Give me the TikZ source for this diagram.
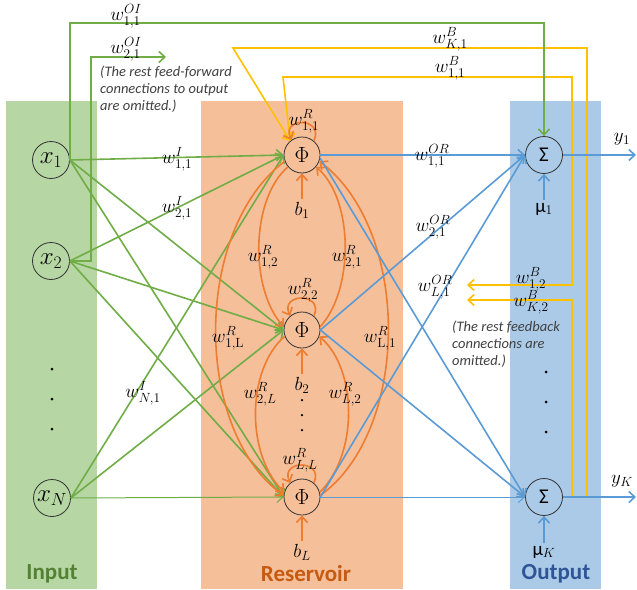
\documentclass[tikz,border=0pt]{standalone}
\usepackage{fix-cm}
\usepackage[no-math]{fontspec}
\setmainfont{Carlito}
\usetikzlibrary{arrows.meta}

\definecolor{inband}{RGB}{182,214,163}
\definecolor{resband}{RGB}{245,191,154}
\definecolor{outband}{RGB}{170,202,232}
\definecolor{ingreen}{RGB}{112,173,71}
\definecolor{resorange}{RGB}{237,125,49}
\definecolor{outblue}{RGB}{91,155,213}
\definecolor{fbyellow}{RGB}{255,192,0}
\definecolor{intext}{RGB}{84,130,53}
\definecolor{restext}{RGB}{197,90,17}
\definecolor{outtext}{RGB}{47,85,151}
\definecolor{notetext}{RGB}{64,64,64}

\tikzset{
  unit/.style={circle,draw=black!80,line width=0.8pt,minimum size=37pt,inner sep=0pt},
  wlab/.style={inner sep=0pt,font=\fontsize{19}{21}\selectfont},
  bandlab/.style={font=\fontsize{23}{26}\selectfont\bfseries},
  note/.style={align=left,inner sep=0pt,anchor=west,text=notetext,font=\fontsize{14.5}{16.8}\selectfont\itshape},
  gline/.style={draw=ingreen,line width=1.6pt,->},
  rline/.style={draw=resorange,line width=1.6pt,->},
  oline/.style={draw=outblue,line width=1.6pt,->},
  fline/.style={draw=fbyellow,line width=1.6pt,->},
  dot/.style={circle,fill=black,inner sep=0pt,minimum size=3pt},
}

\begin{document}
\begin{tikzpicture}[x=1pt,y=-1pt,>={Straight Barb[length=6pt,width=11pt]}]
			%%%%% START %%%%%
			\useasboundingbox (0,0) rectangle (637,589);

			% the three bands
			\fill[inband] (6,101) rectangle (97,589);
			\fill[resband] (201,101) rectangle (403,589);
			\fill[outband] (510,101) rectangle (601,589);
			\node[bandlab,text=intext] (inlab) at (52,574) {Input};
			\node[bandlab,text=restext] (reslab) at (306,574) {Reservoir};
			\node[bandlab,text=outtext] (outlab) at (556,574) {Output};

			% units
			\node[unit,font=\fontsize{25}{27}\selectfont] (x1) at (51,160) {$x_1$};
			\node[unit,font=\fontsize{25}{27}\selectfont] (x2) at (51,261) {$x_2$};
			\node[unit,font=\fontsize{25}{27}\selectfont] (xN) at (52,498) {$x_N$};
			\node[unit,minimum size=36pt,font=\fontsize{22}{24}\selectfont] (phi1) at (302,155) {$\Phi$};
			\node[unit,minimum size=36pt,font=\fontsize{22}{24}\selectfont] (phi2) at (302,330) {$\Phi$};
			\node[unit,minimum size=36pt,font=\fontsize{22}{24}\selectfont] (phiL) at (302,497) {$\Phi$};
			\node[unit,font=\fontsize{21}{24}\selectfont] (sig1) at (544,155) {Σ};
			\node[unit,font=\fontsize{21}{24}\selectfont] (sigK) at (544,497) {Σ};

			\node[dot] (ind1) at (52,369) {};
			\node[dot] (ind2) at (52,399) {};
			\node[dot] (ind3) at (52,429) {};
			\node[dot,minimum size=2.5pt] (resd1) at (302,400) {};
			\node[dot,minimum size=2.5pt] (resd2) at (302,415) {};
			\node[dot,minimum size=2.5pt] (resd3) at (302,430) {};
			\node[dot] (outd1) at (546,372) {};
			\node[dot] (outd2) at (546,402) {};
			\node[dot] (outd3) at (546,432) {};

			% biases
			\node[wlab] (b1) at (302,210) {$b_1$};
			\node[wlab] (b2) at (302,385) {$b_2$};
			\node[wlab] (bL) at (302,552) {$b_L$};
			\draw[rline] (b1.north) ++(0,-3) -- (phi1.south);
			\draw[rline] (b2.north) ++(0,-3) -- (phi2.south);
			\draw[rline] (bL.north) ++(0,-3) -- (phiL.south);
			\node[wlab] (mu1) at (544,209) {μ$_1$};
			\node[wlab] (muK) at (544,552) {μ$_K$};
			\draw[oline] (mu1.north) ++(0,-3) -- (sig1.south);
			\draw[oline] (muK.north) ++(0,-3) -- (sigK.south);

			% feedback to the reservoir
			\coordinate (j1) at (572,155);
			\coordinate (jK) at (587,497);
			\coordinate (jK2) at (572,497);
			\coordinate (fb12) at (467,285);
			\coordinate (fbK2) at (467,300);
			\draw[fline] (j1) |- (283,77) -- (phi1.130);
			\draw[fline] (jK) |- (233,48) -- (phi1.130);
			\draw[fline] (j1) |- (fb12);
			\draw[fline] (jK2) |- (fbK2);
			\node[wlab] (wB11) at (450,68) {$w^B_{1,1}$};
			\node[wlab] (wBK1) at (450,39) {$w^B_{K,1}$};
			\node[wlab] (wB12) at (531,279) {$w^B_{1,2}$};
			\node[wlab] (wBK2) at (531,302) {$w^B_{K,2}$};
			\node[note] (fbnote) at (452,344) {(The rest feedback\\connections are\\omitted.)};

			% input to reservoir
			\draw[gline] (x1.east) -- (phi1.west);
			\draw[gline] (x1.east) -- (phi2.west);
			\draw[gline] (x1.east) -- (phiL.west);
			\draw[gline] (x2.east) -- (phi1.west);
			\draw[gline] (x2.east) -- (phi2.west);
			\draw[gline] (x2.east) -- (phiL.west);
			\draw[gline] (xN.east) -- (phi1.west);
			\draw[gline] (xN.east) -- (phi2.west);
			\draw[gline,line width=1pt] (xN.east) -- (phiL.west);
			\node[wlab] (wI11) at (177,159) {$w^I_{1,1}$};
			\node[wlab] (wI21) at (177,208) {$w^I_{2,1}$};
			\node[wlab] (wIN1) at (143,393) {$w^I_{N,1}$};

			% input straight to output
			\coordinate (oi2) at (166,57);
			\draw[gline] (x1.east) |- (sig1.north |- 0,23) -- (sig1.north);
			\draw[gline] (x2.east) -- ++(21,0) |- (oi2);
			\node[wlab] (wOI11) at (126,16) {$w^{OI}_{1,1}$};
			\node[wlab] (wOI21) at (126,49) {$w^{OI}_{2,1}$};
			\node[note] (ffnote) at (100,89) {(The rest feed-forward\\connections to output\\are omitted.)};

			% recurrent weights
			\draw[rline] (phi1.50) .. controls +(65:26pt) and +(115:26pt) .. (phi1.125);
			\draw[rline] (phi2.50) .. controls +(65:26pt) and +(115:26pt) .. (phi2.130);
			\draw[rline] (phiL.50) .. controls +(65:26pt) and +(115:26pt) .. (phiL.130);
			\draw[rline] (phi1.220) .. controls (250,200) and (250,290) .. (phi2.170);
			\draw[rline] (phi1.200) .. controls (193,230) and (193,430) .. (phiL.175);
			\draw[rline] (phi2.200) .. controls (246,370) and (246,455) .. (phiL.165);
			\draw[rline] (phi2.10) .. controls (354,290) and (354,200) .. (phi1.320);
			\draw[rline] (phiL.5) .. controls (411,430) and (411,230) .. (phi1.340);
			\draw[rline] (phiL.15) .. controls (358,455) and (358,370) .. (phi2.340);
			\node[wlab] (wR11) at (304,121) {$w^R_{1,1}$};
			\node[wlab] (wR22) at (303,290) {$w^R_{2,2}$};
			\node[wlab] (wRLL) at (300,460) {$w^R_{L,L}$};
			\node[wlab] (wR12) at (263,257) {$w^R_{1,2}$};
			\node[wlab] (wR21) at (347,257) {$w^R_{2,1}$};
			\node[wlab] (wR1L) at (228,338) {$w^R_{1,\mathrm{L}}$};
			\node[wlab] (wRL1) at (380,338) {$w^R_{\mathrm{L},1}$};
			\node[wlab] (wR2L) at (260,394) {$w^R_{2,L}$};
			\node[wlab] (wRL2) at (345,394) {$w^R_{L,2}$};

			% reservoir to output
			\draw[oline] (phi1.east) -- (sig1.west);
			\draw[oline] (phi1.-10) -- (sigK.west);
			\draw[oline] (phi2.east) -- (sig1.west);
			\draw[oline] (phi2.east) -- (sigK.west);
			\draw[oline] (phiL.east) -- (sig1.west);
			\draw[oline,line width=1pt] (phiL.east) -- (sigK.west);
			\node[wlab] (wOR11) at (432,156) {$w^{OR}_{1,1}$};
			\node[wlab] (wOR21) at (433,227) {$w^{OR}_{2,1}$};
			\node[wlab] (wORL1) at (435,287) {$w^{OR}_{L,1}$};

			% outputs
			\coordinate (y1end) at (636,155);
			\coordinate (yKend) at (636,497);
			\draw[oline] (sig1.east) -- (y1end);
			\draw[oline] (sigK.east) -- (yKend);
			\node[wlab] (y1) at (622,139) {$y_1$};
			\node[wlab] (yK) at (622,481) {$y_K$};
			%%%%% END %%%%%
\end{tikzpicture}
\end{document}
